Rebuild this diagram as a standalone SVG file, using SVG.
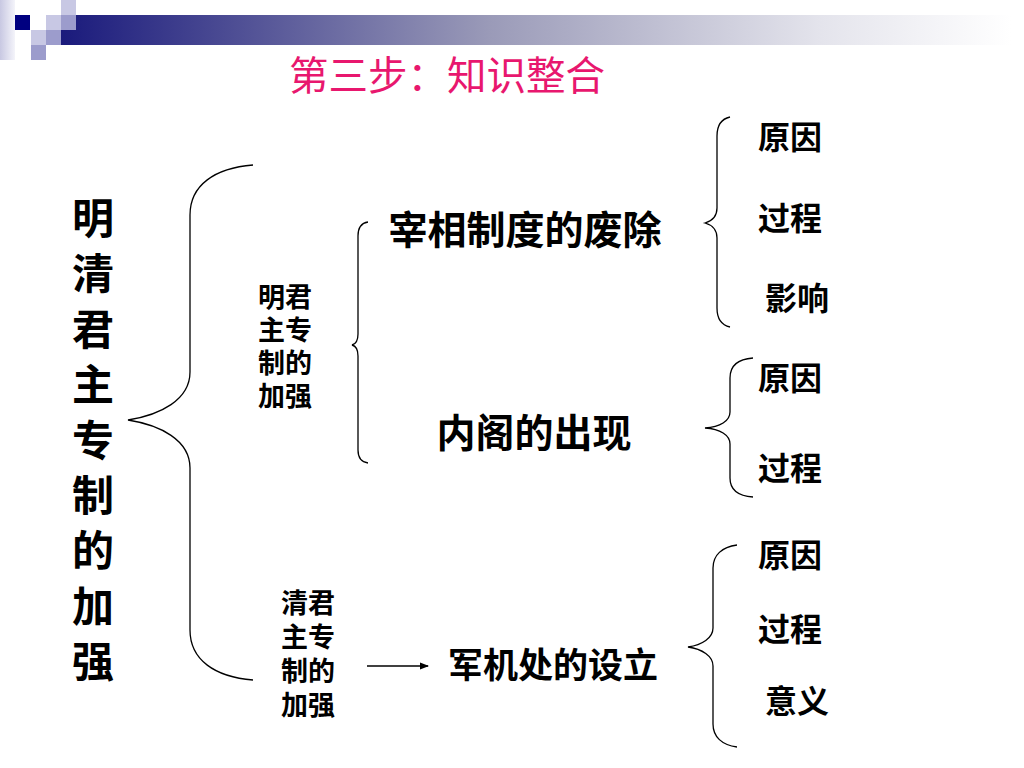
<svg xmlns="http://www.w3.org/2000/svg" width="1024" height="768" viewBox="0 0 1024 768">
<style>
.t{font-family:"Noto Sans CJK SC","Noto Sans",sans-serif;fill:#000;font-weight:bold;text-anchor:middle}
.title{font-family:"Noto Sans CJK SC","Noto Sans",sans-serif;fill:#e8176e;font-size:39.5px;text-anchor:middle}
.br{fill:none;stroke:#000;stroke-width:1.3}
</style>
<defs>
<linearGradient id="bar" x1="0" y1="0" x2="1" y2="0">
<stop offset="0" stop-color="#1a1a7c"/>
<stop offset="0.45" stop-color="#9a9ab8"/>
<stop offset="0.8" stop-color="#e4e4ec"/>
<stop offset="1" stop-color="#ffffff"/>
</linearGradient>
<linearGradient id="strip" x1="0" y1="0" x2="1" y2="0">
<stop offset="0" stop-color="#c8c8e2"/>
<stop offset="1" stop-color="#f4f4fa"/>
</linearGradient>
<marker id="ah" markerWidth="9" markerHeight="8" refX="8" refY="4" orient="auto" markerUnits="userSpaceOnUse">
<path d="M0,0.5 L9,4 L0,7.5 Z" fill="#000"/>
</marker>
</defs>
<rect width="1024" height="768" fill="#fff"/>
<g id="decoration">
<rect x="0" y="0" width="15" height="60" fill="url(#strip)"/>
<rect x="61" y="15" width="950" height="30" fill="url(#bar)"/>
<rect x="15" y="15" width="15" height="15" fill="#000080"/>
<rect x="46" y="15" width="15" height="15" fill="#c8c8e4"/>
<rect x="61" y="0" width="15" height="15" fill="#c8c8e4"/>
<rect x="61" y="15" width="15" height="15" fill="#9c9ccc"/>
<rect x="31" y="30" width="15" height="15" fill="#c8c8e4"/>
<rect x="46" y="30" width="15" height="15" fill="#9c9ccc"/>
<rect x="31" y="45" width="15" height="15" fill="#9c9ccc"/>
</g>
<text class="title" x="447" y="90">第三步：知识整合</text>
<g id="root">
<text class="t" font-size="42" x="93" y="234">明</text>
<text class="t" font-size="42" x="93" y="289.4">清</text>
<text class="t" font-size="42" x="93" y="344.8">君</text>
<text class="t" font-size="42" x="93" y="400.2">主</text>
<text class="t" font-size="42" x="93" y="455.6">专</text>
<text class="t" font-size="42" x="93" y="511">制</text>
<text class="t" font-size="42" x="93" y="566.4">的</text>
<text class="t" font-size="42" x="93" y="621.8">加</text>
<text class="t" font-size="42" x="93" y="677.2">强</text>
</g>
<g id="ming">
<text class="t" font-size="27" x="285" y="307">明君<tspan x="285" dy="33">主专</tspan><tspan x="285" dy="33">制的</tspan><tspan x="285" dy="33">加强</tspan></text>
</g>
<g id="qing">
<text class="t" font-size="27" x="308" y="613">清君<tspan x="308" dy="34">主专</tspan><tspan x="308" dy="34">制的</tspan><tspan x="308" dy="34">加强</tspan></text>
</g>
<g id="zaixiang"><text class="t" font-size="39" x="525" y="244">宰相制度的废除</text></g>
<g id="neige"><text class="t" font-size="39" x="534" y="447">内阁的出现</text></g>
<g id="junjichu"><text class="t" font-size="35" x="553" y="678">军机处的设立</text></g>
<g id="zx-items">
<text class="t" font-size="32" x="790" y="149">原因</text>
<text class="t" font-size="32" x="790" y="230">过程</text>
<text class="t" font-size="32" x="797" y="310">影响</text>
</g>
<g id="ng-items">
<text class="t" font-size="32" x="790" y="390">原因</text>
<text class="t" font-size="32" x="790" y="480">过程</text>
</g>
<g id="jjc-items">
<text class="t" font-size="32" x="790" y="567">原因</text>
<text class="t" font-size="32" x="790" y="641">过程</text>
<text class="t" font-size="32" x="797" y="713">意义</text>
</g>
<g id="connectors">
<path class="br" d="M253,165 C215,168 190,185 190,215 L190,372 C190,400 160,415 128,420 C160,425 190,440 190,468 L190,630 C190,660 215,677 253,680"/>
<path class="br" d="M368,222 C361,223 358,228 358,236 L358,334 C358,340 356,344 352,345 C356,346 358,350 358,356 L358,450 C358,458 361,462 368,463"/>
<path class="br" d="M730,117 C721,119 717,126 717,136 L717,208 C717,216 712,221 705,223 C712,225 717,230 717,238 L717,308 C717,318 721,325 730,327"/>
<path class="br" d="M753,358 C738,359 730,366 730,378 L730,412 C730,421 720,427 705,428 C720,429 730,435 730,444 L730,478 C730,490 738,496 753,497"/>
<path class="br" d="M737,545 C722,547 713,555 713,568 L713,628 C713,638 702,645 688,647 C702,649 713,656 713,666 L713,724 C713,737 722,745 737,747"/>
<line x1="367" y1="666" x2="428" y2="666" stroke="#000" stroke-width="1.3" marker-end="url(#ah)"/>
</g>
</svg>
